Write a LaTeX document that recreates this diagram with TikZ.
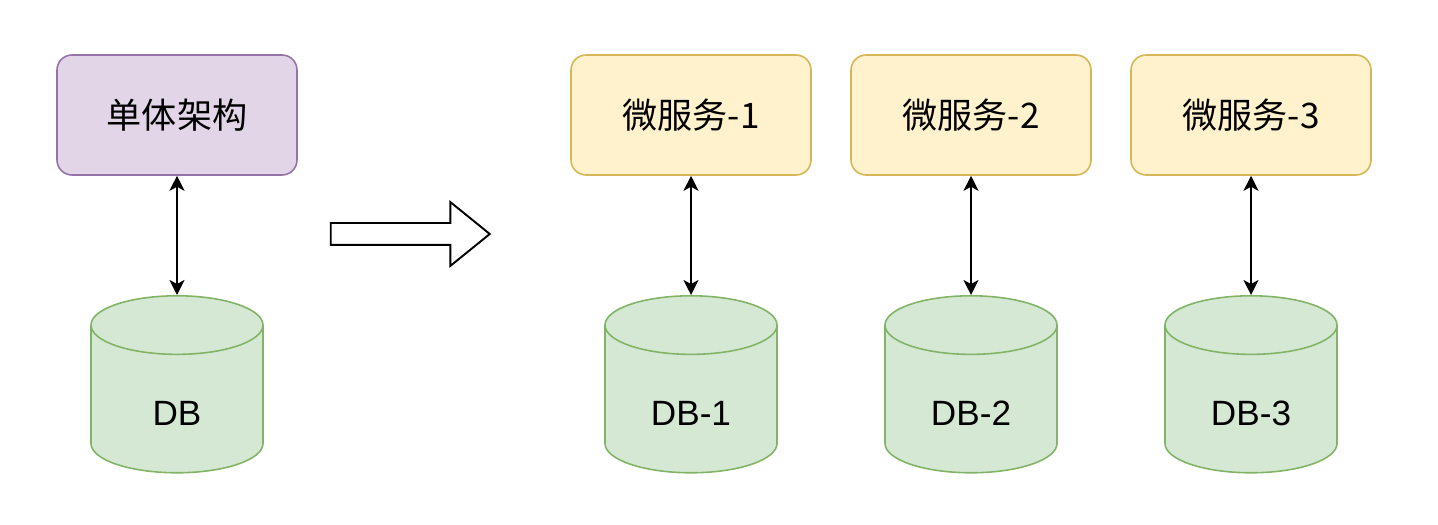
\documentclass[tikz,border=0pt]{standalone}
\usepackage{fontspec}
\setmainfont{Liberation Sans}
\newfontfamily\cjk{Noto Sans CJK SC}
\definecolor{monofill}{HTML}{E1D5E7}
\definecolor{monodraw}{HTML}{9673A6}
\definecolor{msfill}{HTML}{FFF2CC}
\definecolor{msdraw}{HTML}{D6B656}
\definecolor{dbfill}{HTML}{D5E8D4}
\definecolor{dbdraw}{HTML}{82B366}
\usetikzlibrary{arrows.meta,positioning,shapes.geometric,shapes.arrows}

\begin{document}
\begin{tikzpicture}[
  every node/.style={font=\fontsize{20}{24}\selectfont},
  svcbox/.style={draw,rounded corners=0.3cm,line width=0.9pt,
                 minimum width=4.8cm,minimum height=2.4cm,align=center,
                 font=\cjk\fontsize{20}{24}\selectfont},
  dbcyl/.style={cylinder,shape border rotate=90,aspect=5,draw=dbdraw,
                fill=dbfill,line width=0.9pt,anchor=north,
                minimum width=3.44cm,minimum height=3.54cm},
  dblabel/.style={anchor=center,yshift=1.2cm},
  link/.style={{Stealth[length=0.3cm,width=0.3cm,inset=0.08cm]}-{Stealth[length=0.3cm,width=0.3cm,inset=0.08cm]},
               line width=1.1pt},
]
  \useasboundingbox (0,0) rectangle (28.76,10.48);

  % Monolith (left)
  \node[svcbox,fill=monofill,draw=monodraw] (mono) at (3.54,8.18) {单体架构};
  \node[dbcyl,label={[dblabel]south:DB}] (db) at (3.54,4.58) {};
  \draw[link] (mono) -- (db);

  % Transition arrow
  \node[single arrow,draw,line width=1.1pt,fill=white,minimum height=3.18cm,
        single arrow head extend=0.42cm,single arrow tip angle=78,inner sep=0.2cm]
    (shift) at (8.07,5.8) {};

  % Microservices (right)
  \node[svcbox,fill=msfill,draw=msdraw] (ms1) at (13.82,8.18) {微服务-1};
  \node[svcbox,fill=msfill,draw=msdraw] (ms2) at (19.42,8.18) {微服务-2};
  \node[svcbox,fill=msfill,draw=msdraw] (ms3) at (25.02,8.18) {微服务-3};

  \node[dbcyl,label={[dblabel]south:DB-1}] (db1) at (13.82,4.58) {};
  \node[dbcyl,label={[dblabel]south:DB-2}] (db2) at (19.42,4.58) {};
  \node[dbcyl,label={[dblabel]south:DB-3}] (db3) at (25.02,4.58) {};

  % Links
  \draw[link] (ms1) -- (db1);
  \draw[link] (ms2) -- (db2);
  \draw[link] (ms3) -- (db3);
\end{tikzpicture}
\end{document}
